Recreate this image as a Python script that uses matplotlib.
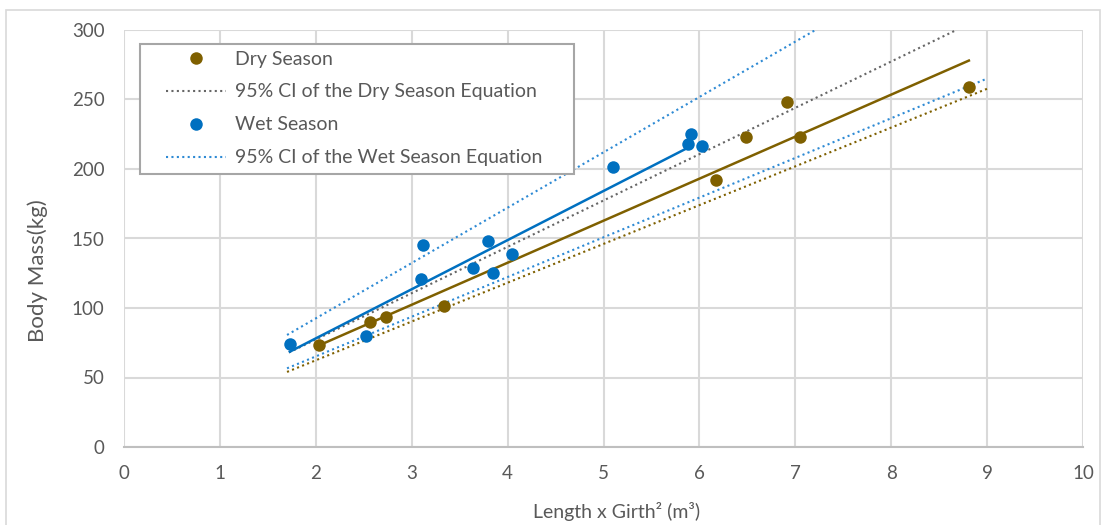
import matplotlib
matplotlib.use('Agg')
import matplotlib.pyplot as plt
from matplotlib.lines import Line2D
from matplotlib.patches import Rectangle

plt.rcParams['font.family'] = ['Lato', 'DejaVu Sans']

# dry season measurements
dry_x = [2.03, 2.56, 2.73, 3.34, 6.17, 6.49, 6.91, 7.05, 8.81]
dry_y = [73.6, 90, 93.3, 101.7, 192, 223, 248, 223, 259]

# wet season measurements
wet_x = [1.73, 2.52, 3.10, 3.12, 3.64, 3.80, 3.85, 4.05, 5.10, 5.88, 5.91, 6.03]
wet_y = [74, 80, 121, 145, 129, 148, 125.5, 138.6, 201.6, 218, 225, 216.5]

# regression lines and 95% CI lines (end points)
dry_fit_x = [2.03, 8.81]
dry_fit_y = [73, 278]
dry_ci_up_x = [1.72, 8.68]
dry_ci_up_y = [68, 300]
dry_ci_lo_x = [1.70, 9.01]
dry_ci_lo_y = [54, 258]

wet_fit_x = [1.73, 5.90]
wet_fit_y = [68.6, 216]
wet_ci_up_x = [1.70, 7.21]
wet_ci_up_y = [80.6, 300]
wet_ci_lo_x = [1.70, 8.98]
wet_ci_lo_y = [56.6, 264.5]

x_ticks = list(range(0, 11))
y_ticks = list(range(0, 301, 50))

brown = '#7f6000'
blue = '#0070c0'
blue_dot = '#2e8ad4'
gray_dot = '#666666'
txt = '#595959'
grid_c = '#d9d9d9'

W, H = 1104, 525
fig = plt.figure(figsize=(W / 100, H / 100), dpi=100)
ax = fig.add_axes([124 / W, 1 - 447 / H, 959 / W, 417 / H])

# chart area border
fig.patches.append(Rectangle((6 / W, -0.01), 1094 / W, 1 - 10 / H + 0.01,
                             transform=fig.transFigure, fill=False,
                             edgecolor='#d9d9d9', linewidth=1.2))

dot = (0, (1, 1.6))
ax.plot(dry_ci_up_x, dry_ci_up_y, color=gray_dot, lw=1.5, ls=dot, zorder=2)
ax.plot(dry_ci_lo_x, dry_ci_lo_y, color=brown, lw=1.5, ls=dot, zorder=2)
ax.plot(wet_ci_up_x, wet_ci_up_y, color=blue_dot, lw=1.5, ls=dot, zorder=2)
ax.plot(wet_ci_lo_x, wet_ci_lo_y, color=blue_dot, lw=1.5, ls=dot, zorder=2)
ax.plot(dry_fit_x, dry_fit_y, color=brown, lw=1.8, zorder=3)
ax.plot(wet_fit_x, wet_fit_y, color=blue, lw=1.8, zorder=3)

ax.plot(dry_x, dry_y, 'o', color=brown, ms=9, mew=0, zorder=4)
ax.plot(wet_x, wet_y, 'o', color=blue, ms=9, mew=0, zorder=4)

ax.set_xlim(0, 10)
ax.set_ylim(0, 300)
ax.set_xticks(x_ticks)
ax.set_yticks(y_ticks)
ax.grid(True, color=grid_c, lw=1.5, zorder=0)
ax.set_axisbelow(True)
for s in ['top', 'right', 'left']:
    ax.spines[s].set_visible(False)
ax.spines['bottom'].set_color('#bfbfbf')
ax.spines['bottom'].set_linewidth(1.5)
ax.tick_params(length=0, labelsize=13.5, colors=txt)
ax.tick_params(axis='x', pad=13)
ax.tick_params(axis='y', pad=14)

ax.set_xlabel('Length x Girth² (m³)', fontsize=14, color=txt)
ax.set_ylabel('Body Mass(kg)', fontsize=16, color=txt)
ax.xaxis.set_label_coords(0.514, -0.132)
ax.yaxis.set_label_coords(-0.0793, 0.422)

# legend box drawn separately so the handles can sit further in from the edge
ax.add_patch(Rectangle((140 / W, 1 - 174 / H), 434 / W, 130 / H,
                       transform=fig.transFigure, facecolor='white',
                       edgecolor='#a6a6a6', linewidth=1.5, zorder=4.5))

handles = [
    Line2D([], [], ls='none', marker='o', color=brown, ms=9, mew=0),
    Line2D([], [], color=gray_dot, lw=1.5, ls=dot),
    Line2D([], [], ls='none', marker='o', color=blue, ms=9, mew=0),
    Line2D([], [], color=blue_dot, lw=1.5, ls=dot),
]
labels = ['Dry Season', '95% CI of the Dry Season Equation',
          'Wet Season', '95% CI of the Wet Season Equation']
leg = ax.legend(handles, labels, loc='upper left',
                bbox_to_anchor=(166 / W, 1 - 50.5 / H), bbox_transform=fig.transFigure,
                fontsize=14, frameon=False, handlelength=3.1, handletextpad=0.45,
                labelspacing=0.82, borderpad=0, borderaxespad=0)
leg.set_zorder(5)
for t in leg.get_texts():
    t.set_color(txt)

fig.savefig('out.png', dpi=100)
